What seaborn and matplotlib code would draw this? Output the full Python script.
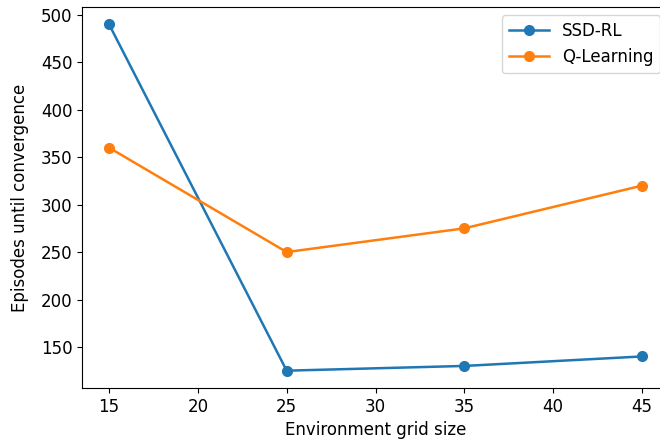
import matplotlib
matplotlib.use("Agg")
import matplotlib.pyplot as plt
import seaborn as sns
import pandas as pd

grid_sizes = [15, 25, 35, 45]
ssd_rl = [490, 125, 130, 140]
q_learning = [360, 250, 275, 320]
series_names = ["SSD-RL", "Q-Learning"]

df = pd.DataFrame({
    "grid": grid_sizes * 2,
    "episodes": ssd_rl + q_learning,
    "method": [series_names[0]] * len(grid_sizes) + [series_names[1]] * len(grid_sizes),
})

plt.rcParams["font.family"] = ["DejaVu Sans"]
plt.rcParams["font.size"] = 12

fig = plt.figure(figsize=(6.6, 4.43), dpi=100)
ax = fig.add_axes([82.4 / 660, 55 / 443, 586.2 / 660, 381 / 443])

sns.lineplot(data=df, x="grid", y="episodes", hue="method", marker="o",
             markersize=8, markeredgewidth=0, linewidth=1.8,
             palette=["#1f77b4", "#ff7f0e"], ax=ax)

ax.set_xlim(13.5, 46.5)
ax.set_ylim(106.75, 508.25)
ax.set_xticks([15, 20, 25, 30, 35, 40, 45])
ax.set_xlabel("Environment grid size", fontsize=12)
ax.set_ylabel("Episodes until convergence", fontsize=12, labelpad=9)
ax.tick_params(labelsize=12)
leg = ax.legend(loc="upper right", fontsize=12, handlelength=2.4)
leg.set_title(None)

fig.savefig("out.png", dpi=100)
